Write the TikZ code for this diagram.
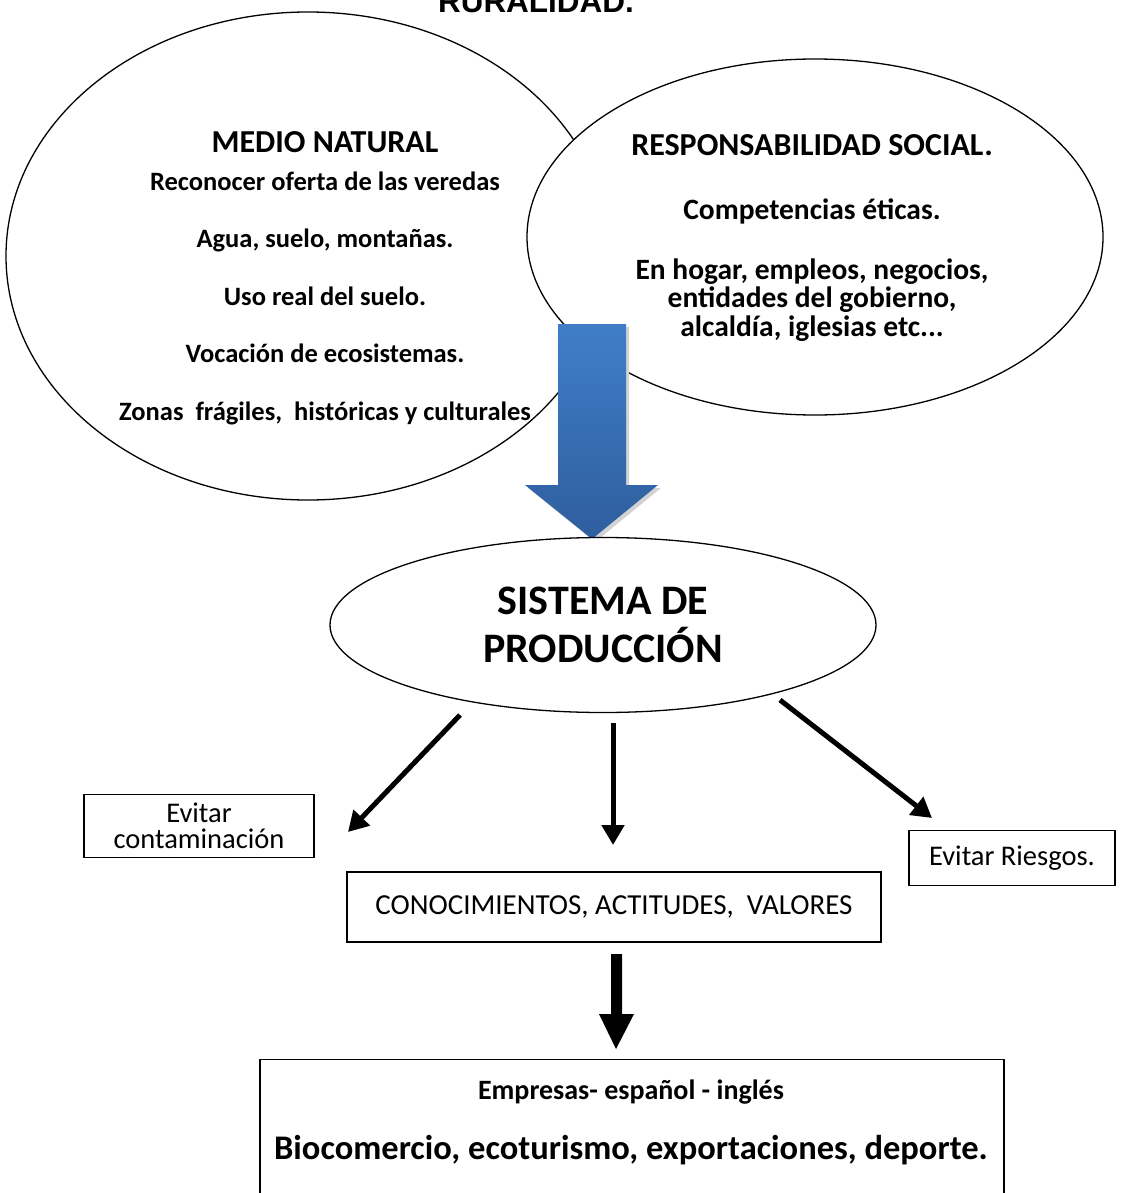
\documentclass[tikz,border=0pt]{standalone}
\usepackage{fontspec}
\setmainfont{Carlito}
\newfontfamily\arialfont{Liberation Sans}
\usetikzlibrary{arrows.meta}
\usetikzlibrary{shapes.geometric}

\definecolor{azularriba}{RGB}{64,126,200}
\definecolor{azulabajo}{RGB}{46,94,158}

\begin{document}
\begin{tikzpicture}[x=1pt,y=-1pt,
  globo/.style={draw,ellipse,fill=white,line width=1.3pt,inner sep=0pt},
  caja/.style={draw,rectangle,fill=white,line width=1.3pt,inner sep=0pt},
  flecha/.style={line width=5pt,-{Triangle[length=20pt,width=22pt]}}]
\useasboundingbox (0,0) rectangle (1120,1193);
\node[anchor=base] (ruralidad) at (536,13) {\arialfont\bfseries\fontsize{31.5}{34}\selectfont RURALIDAD.};
\node[globo,minimum width=604,minimum height=488] (natural) at (308,256) {};
\node[align=center,font=\bfseries\fontsize{26.5}{57.5}\selectfont] (naturaltxt) at (325,278)
  {{\fontsize{32}{57.5}\selectfont MEDIO NATURAL}\\[-19.5pt]
   Reconocer oferta de las veredas\\
   Agua, suelo, monta\~nas.\\
   Uso real del suelo.\\
   Vocaci\'on de ecosistemas.\\
   Zonas\ \ fr\'agiles,\ \ hist\'oricas y culturales};
\node[globo,minimum width=576,minimum height=356] (social) at (815,237) {};
\node[align=center,font=\bfseries\fontsize{29.5}{28.5}\selectfont] (socialtxt) at (812,238)
  {{\fontsize{32}{28.5}\selectfont RESPONSABILIDAD SOCIAL.}\\[35.5pt]
   Competencias \'eticas.\\[31.5pt]
   En hogar, empleos, negocios,\\
   entidades del gobierno,\\
   alcald\'ia, iglesias etc...};
% flecha azul
\fill[gray!35] (561,327) -- (629,327) -- (629,488) -- (661,488) -- (595,542) -- (528,488) -- (561,488) -- cycle;
\shade[top color=azularriba,bottom color=azulabajo] (558,324) -- (626,324) -- (626,485) -- (658,485)
  -- (592,539) -- (525,485) -- (558,485) -- cycle;
\node[globo,minimum width=546,minimum height=175,align=center,
  font=\bfseries\fontsize{42}{48}\selectfont] (sistema) at (603,625) {SISTEMA DE\\PRODUCCI\'ON};
\node[caja,minimum width=230,minimum height=63,align=center,
  font=\fontsize{28.5}{26}\selectfont] (contam) at (199,826) {Evitar\\contaminaci\'on};
\node[caja,minimum width=206,minimum height=55,font=\fontsize{28.5}{28}\selectfont] (riesgos) at (1012,858) {Evitar Riesgos.};
\node[caja,minimum width=534,minimum height=70,font=\fontsize{29}{30}\selectfont] (conoc) at (614,907)
  {CONOCIMIENTOS, ACTITUDES,\ \ VALORES};
\node[caja,minimum width=744,minimum height=200,anchor=north] (empresas) at (632,1059) {};
\node[align=center,font=\bfseries\fontsize{28}{60}\selectfont] (empresastxt) at (631,1122)
  {Empresas- espa\~nol - ingl\'es\\{\fontsize{34.5}{60}\selectfont Biocomercio, ecoturismo, exportaciones, deporte.}};
% flechas
\coordinate (a1) at (460,715);
\coordinate (b1) at (348,832);
\coordinate (a2) at (613,723);
\coordinate (b2) at (613,845);
\coordinate (a3) at (780,700);
\coordinate (b3) at (932,818);
\draw[flecha] (a1) -- (b1);
\draw[flecha] (a2) -- (b2);
\draw[flecha] (a3) -- (b3);
\fill (611,954) -- (622,954) -- (622,1014) -- (634,1014) -- (616,1049) -- (599,1014) -- (611,1014) -- cycle;
\end{tikzpicture}
\end{document}
